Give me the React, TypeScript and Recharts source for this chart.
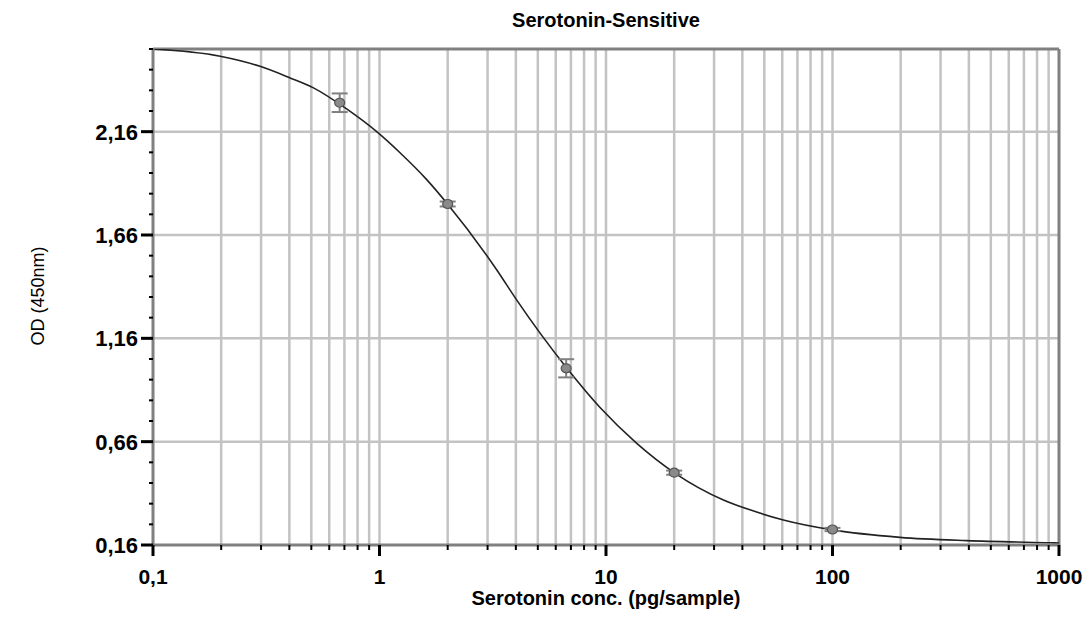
import React from "react";
import {
  ComposedChart,
  Line,
  Scatter,
  ErrorBar,
  XAxis,
  YAxis,
  ReferenceLine,
} from "recharts";

// ---- data ----
const xMajorTicks = [0.1, 1, 10, 100, 1000];
const xMinorTicks = [
  0.2, 0.3, 0.4, 0.5, 0.6, 0.7, 0.8, 0.9,
  2, 3, 4, 5, 6, 7, 8, 9,
  20, 30, 40, 50, 60, 70, 80, 90,
  200, 300, 400, 500, 600, 700, 800, 900,
];
const yMajorTicks = [0.16, 0.66, 1.16, 1.66, 2.16];
const yMinorTicks = [
  0.26, 0.36, 0.46, 0.56,
  0.76, 0.86, 0.96, 1.06,
  1.26, 1.36, 1.46, 1.56,
  1.76, 1.86, 1.96, 2.06,
  2.26, 2.36, 2.46, 2.56,
];

// standards (concentration, OD, error)
const stdConc = [0.667, 2, 6.67, 20, 100];
const stdOD = [2.3, 1.81, 1.015, 0.51, 0.235];
const stdErr = [0.045, 0.012, 0.044, 0.01, 0.008];

// fitted curve
const curveConc = [
  0.1, 0.198, 0.297, 0.403, 0.511, 0.716, 0.972, 1.232, 1.616, 1.98,
  3.29, 4.03, 6.71, 9.41, 13.67, 20.2, 33, 43.2, 60.7, 100, 198.6, 391, 913, 1000,
];
const curveOD = [
  2.56, 2.525, 2.476, 2.42, 2.372, 2.27, 2.16, 2.058, 1.928, 1.815,
  1.492, 1.346, 1.016, 0.825, 0.652, 0.507, 0.378, 0.33, 0.281, 0.233, 0.197, 0.181, 0.171, 0.17,
];

const title = "Serotonin-Sensitive";
const xLabel = "Serotonin conc. (pg/sample)";
const yLabel = "OD (450nm)";

const curveData = curveConc.map((x, i) => ({ x, y: curveOD[i] }));
const stdData = stdConc.map((x, i) => ({ x, y: stdOD[i], err: stdErr[i] }));

const xAllTicks = [...xMajorTicks, ...xMinorTicks].sort((a, b) => a - b);
const yAllTicks = [...yMajorTicks, ...yMinorTicks].sort((a, b) => a - b);

const FONT = "'Liberation Sans', Arial, sans-serif";

const fmt = (v: number) => String(v).replace(".", ",");

const XTick = (props: any) => {
  const { x, y, payload } = props;
  const v = payload.value;
  const major = xMajorTicks.includes(v);
  return (
    <g>
      <line
        x1={x}
        x2={x}
        y1={y}
        y2={y + (major ? 11 : 5)}
        stroke="#000"
        strokeWidth={major ? 3 : 2}
      />
      {major && (
        <text
          x={x}
          y={y + 39}
          textAnchor="middle"
          fontFamily={FONT}
          fontWeight="bold"
          fontSize={21}
          fill="#000"
        >
          {fmt(v)}
        </text>
      )}
    </g>
  );
};

const YTick = (props: any) => {
  const { x, y, payload } = props;
  const v = payload.value;
  const major = yMajorTicks.some((m) => Math.abs(m - v) < 1e-6);
  return (
    <g>
      <line
        x1={x - (major ? 12 : 4)}
        x2={x}
        y1={y}
        y2={y}
        stroke="#000"
        strokeWidth={major ? 3 : 2}
      />
      {major && (
        <text
          x={x - 15}
          y={y + 8}
          textAnchor="end"
          fontFamily={FONT}
          fontWeight="bold"
          fontSize={22}
          fill="#000"
        >
          {fmt(v)}
        </text>
      )}
    </g>
  );
};

const Marker = (props: any) => {
  const { cx, cy } = props;
  if (cx == null || cy == null) return null;
  return (
    <ellipse cx={cx} cy={cy} rx={5} ry={4.5} fill="#8a8a8a" stroke="#555" strokeWidth={1.2} />
  );
};

export default function App() {
  return (
    <div
      style={{
        position: "absolute",
        left: 0,
        top: 0,
        width: 1089,
        height: 638,
        background: "#fff",
        fontFamily: FONT,
      }}
    >
      <ComposedChart
        width={1089}
        height={638}
        margin={{ top: 49, right: 30, bottom: 53, left: 73 }}
      >
        <XAxis
          dataKey="x"
          type="number"
          scale="log"
          domain={[0.1, 1000]}
          ticks={xAllTicks}
          interval={0}
          allowDataOverflow
          tickSize={0}
          tickMargin={0}
          tickLine={false}
          tick={<XTick />}
          axisLine={{ stroke: "#808080", strokeWidth: 3 }}
          height={40}
        />
        <YAxis
          type="number"
          domain={[0.16, 2.56]}
          ticks={yAllTicks}
          interval={0}
          allowDataOverflow
          tickSize={0}
          tickMargin={0}
          tickLine={false}
          tick={<YTick />}
          axisLine={{ stroke: "#808080", strokeWidth: 3 }}
          width={80}
        />
        {xMinorTicks.concat([1, 10, 100]).map((v) => (
          <ReferenceLine key={"gx" + v} x={v} stroke="#c3c3c3" strokeWidth={2.5} />
        ))}
        {yMajorTicks.slice(1).map((v) => (
          <ReferenceLine key={"gy" + v} y={v} stroke="#c3c3c3" strokeWidth={2.5} />
        ))}
        <ReferenceLine y={2.56} stroke="#808080" strokeWidth={3} />
        <ReferenceLine x={1000} stroke="#808080" strokeWidth={3} />
        <Line
          data={curveData}
          dataKey="y"
          type="monotone"
          stroke="#222"
          strokeWidth={1.6}
          dot={false}
          isAnimationActive={false}
        />
        <Scatter data={stdData} dataKey="y" shape={<Marker />} isAnimationActive={false}>
          <ErrorBar dataKey="err" direction="y" width={8} stroke="#808080" strokeWidth={2} />
        </Scatter>
      </ComposedChart>
      <div
        style={{
          position: "absolute",
          left: 0,
          width: 1212,
          top: 8,
          textAlign: "center",
          fontWeight: "bold",
          fontSize: 20,
          lineHeight: "24px",
          color: "#000",
        }}
      >
        {title}
      </div>
      <div
        style={{
          position: "absolute",
          left: 0,
          width: 1212,
          top: 591,
          textAlign: "center",
          fontWeight: "bold",
          fontSize: 20,
          lineHeight: "14px",
          color: "#000",
        }}
      >
        {xLabel}
      </div>
      <div
        style={{
          position: "absolute",
          left: 38,
          top: 296,
          transform: "translate(-50%, -50%) rotate(-90deg)",
          whiteSpace: "nowrap",
          fontSize: 18,
          lineHeight: "20px",
          color: "#000",
        }}
      >
        {yLabel}
      </div>
    </div>
  );
}
